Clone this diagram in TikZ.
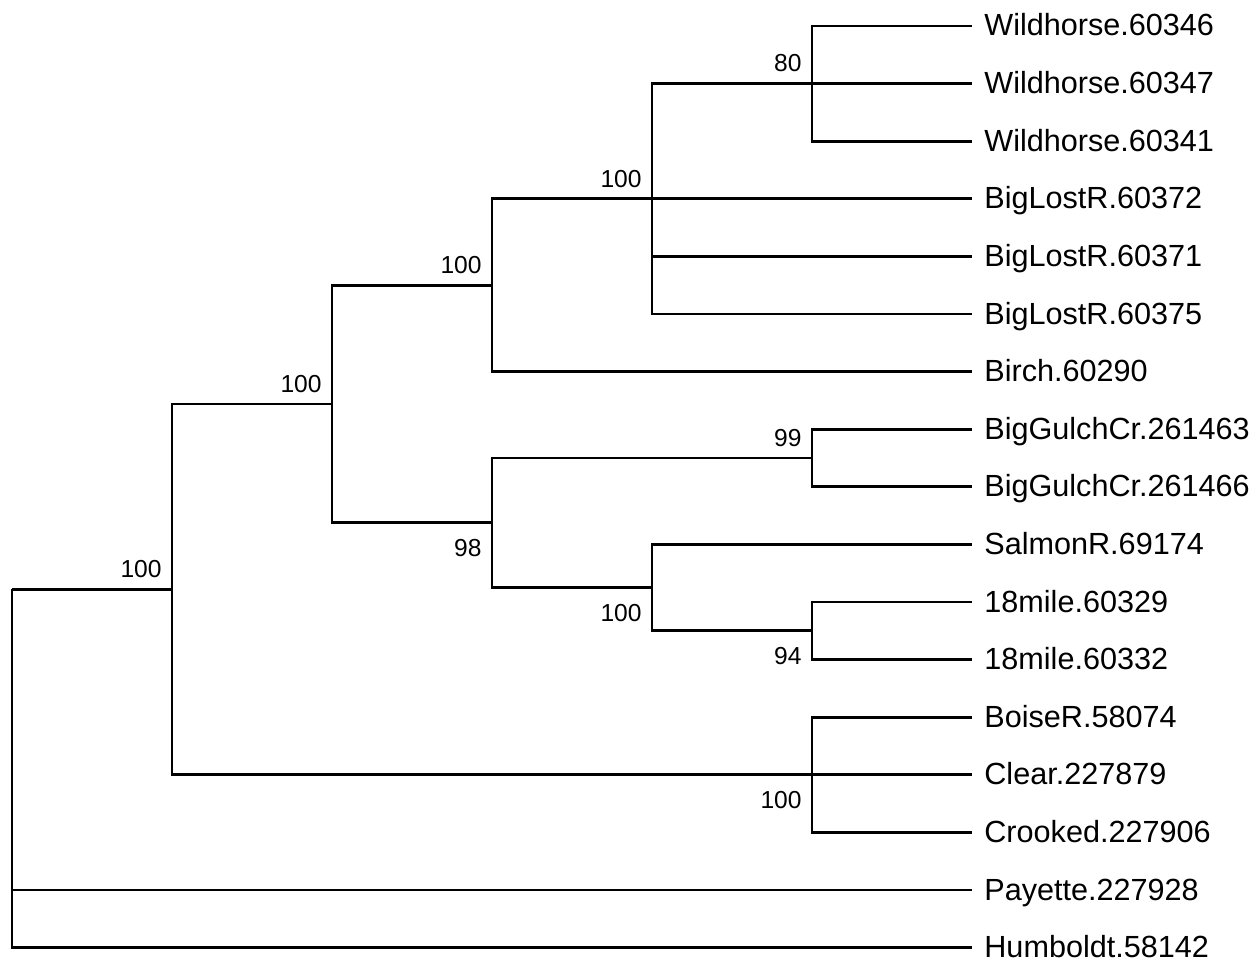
\documentclass[tikz,border=0pt]{standalone}
\usepackage{fontspec}
\setmainfont{Liberation Sans}
\tikzset{
  branch/.style={line width=1.4pt},
  leaf/.style={anchor=base west, inner sep=0pt, font=\fontsize{15.3pt}{18pt}\selectfont},
  bsabove/.style={anchor=south east, inner sep=0pt, font=\fontsize{12.3pt}{14pt}\selectfont},
  bsbelow/.style={anchor=north east, inner sep=0pt, font=\fontsize{12.3pt}{14pt}\selectfont}
}
\begin{document}
\begin{tikzpicture}[x=0.5pt,y=-0.5pt]
\useasboundingbox (0,0) rectangle (1260,963);
% tips and leaf labels
\foreach \name [count=\i from 0] in {Wildhorse.60346,Wildhorse.60347,Wildhorse.60341,
    BigLostR.60372,BigLostR.60371,BigLostR.60375,Birch.60290,
    BigGulchCr.261463,BigGulchCr.261466,SalmonR.69174,18mile.60329,18mile.60332,
    BoiseR.58074,Clear.227879,Crooked.227906,Payette.227928,Humboldt.58142}{
  \coordinate (t\i) at (972, {26+57.6*\i});
  \node[leaf] (l\i) at ([shift={(12,10)}]t\i) {\name};
}
% internal nodes
\coordinate (rt) at (12, 589.4);
\coordinate (main) at (172, 589.4);
\coordinate (up) at (332, 404.0);
\coordinate (wbb) at (492, 285.2);
\coordinate (low) at (492, 522.8);
\coordinate (wb) at (652, 198.8);
\coordinate (salm) at (652, 587.6);
\coordinate (wh) at (812, 83.6);
\coordinate (gulch) at (812, 458.0);
\coordinate (mile) at (812, 630.8);
\coordinate (boise) at (812, 774.8);
% branches
\draw[branch] (rt) |- (main);
\draw[branch] (rt) |- (t15);
\draw[branch] (rt) |- (t16);
\draw[branch] (main) |- (up);
\draw[branch] (main) |- (boise);
\draw[branch] (up) |- (wbb);
\draw[branch] (up) |- (low);
\draw[branch] (wbb) |- (wb);
\draw[branch] (wbb) |- (t6);
\draw[branch] (wb) |- (wh);
\foreach \i in {3,4,5} \draw[branch] (wb) |- (t\i);
\foreach \i in {0,1,2} \draw[branch] (wh) |- (t\i);
\draw[branch] (low) |- (gulch);
\draw[branch] (low) |- (salm);
\foreach \i in {7,8} \draw[branch] (gulch) |- (t\i);
\draw[branch] (salm) |- (t9);
\draw[branch] (salm) |- (mile);
\foreach \i in {10,11} \draw[branch] (mile) |- (t\i);
\foreach \i in {12,13,14} \draw[branch] (boise) |- (t\i);
% support values
\node[bsabove] (b-wh) at ([shift={(-10,-11)}]wh) {80};
\node[bsabove] (b-wb) at ([shift={(-10,-11)}]wb) {100};
\node[bsabove] (b-wbb) at ([shift={(-10,-11)}]wbb) {100};
\node[bsabove] (b-up) at ([shift={(-10,-11)}]up) {100};
\node[bsabove] (b-main) at ([shift={(-10,-11)}]main) {100};
\node[bsabove] (b-gulch) at ([shift={(-10,-11)}]gulch) {99};
\node[bsbelow] (b-low) at ([shift={(-10,16)}]low) {98};
\node[bsbelow] (b-salm) at ([shift={(-10,16)}]salm) {100};
\node[bsbelow] (b-mile) at ([shift={(-10,16)}]mile) {94};
\node[bsbelow] (b-boise) at ([shift={(-10,16)}]boise) {100};
\end{tikzpicture}
\end{document}
